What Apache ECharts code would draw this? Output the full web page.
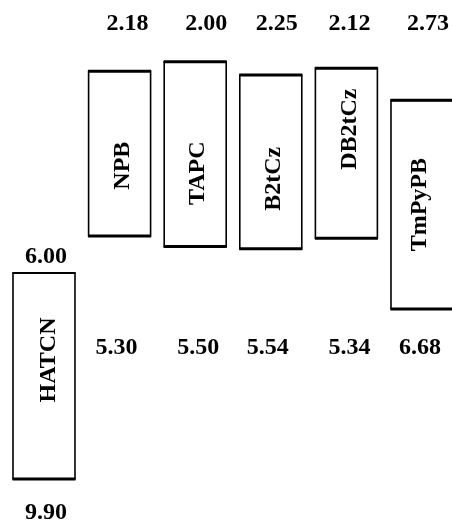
<!DOCTYPE html>
<html>
<head>
<meta charset="utf-8">
<script src="https://cdn.jsdelivr.net/npm/echarts@6/dist/echarts.min.js"></script>
<style>
html,body{margin:0;padding:0;background:#fff;}
#chart{width:452px;height:523px;}
</style>
</head>
<body>
<div id="chart"></div>
<script>
// Energy level data (eV, drawn downward)
const materials = ['HATCN', 'NPB', 'TAPC', 'B2tCz', 'DB2tCz', 'TmPyPB'];
const lumo = [6.00, 2.18, 2.00, 2.25, 2.12, 2.73];
const homo = [9.90, 5.30, 5.50, 5.54, 5.34, 6.68];
const lumoLabels = ['6.00', '2.18', '2.00', '2.25', '2.12', '2.73'];
const homoLabels = ['9.90', '5.30', '5.50', '5.54', '5.34', '6.68'];

// layout tweaks (pixels / energy rows for label placement)
const TOP_ROW = 1.275;   // energy level where the LUMO value row sits
const HOMO_ROW = 7.42;   // energy level where the HOMO value row sits
const lumoDx = [2, 8, 11, 6, 3, 6];
const homoDx = [2, -3, 3, -3, 3, -2];
const nameDy = [-16, 12, 19, 17, -24, 0];
const nameDx = [5, 3, 3, 3, 3, -2];

const FONT = 'bold 24px "Liberation Serif", "Times New Roman", serif';

const chart = echarts.init(document.getElementById('chart'), null, {renderer: 'canvas'});

function renderItem(params, api) {
  const i = api.value(0);
  const top = api.coord([i, api.value(1)]);
  const bot = api.coord([i, api.value(2)]);
  const w = api.size([1, 0])[0] * 0.82;
  const cx = top[0];
  const x0 = cx - w / 2;
  const x1 = cx + w / 2;
  let lumoY, homoY;
  if (i === 0) {
    lumoY = top[1] - 16.5;
    homoY = bot[1] + 33.5;
  } else {
    lumoY = api.coord([i, TOP_ROW])[1];
    homoY = api.coord([i, HOMO_ROW])[1];
  }
  const children = [
    {
      type: 'rect',
      shape: {x: x0, y: top[1], width: w, height: bot[1] - top[1]},
      style: {fill: '#fff', stroke: '#000', lineWidth: 1.6}
    },
    {
      type: 'line',
      shape: {x1: x0 - 0.5, y1: top[1], x2: x1 + 0.5, y2: top[1]},
      style: {stroke: '#000', lineWidth: i === 0 ? 2 : 3}
    },
    {
      type: 'line',
      shape: {x1: x0 - 0.5, y1: bot[1], x2: x1 + 0.5, y2: bot[1]},
      style: {stroke: '#000', lineWidth: 3}
    },
    {
      type: 'text',
      x: cx + nameDx[i],
      y: (top[1] + bot[1]) / 2 + nameDy[i],
      rotation: Math.PI / 2,
      style: {
        text: materials[i], font: FONT, fill: '#000',
        align: 'center', verticalAlign: 'middle'
      }
    },
    {
      type: 'text',
      x: cx + lumoDx[i], y: lumoY,
      style: {
        text: lumoLabels[i], font: FONT, fill: '#000',
        align: 'center', verticalAlign: 'middle'
      }
    },
    {
      type: 'text',
      x: cx + homoDx[i], y: homoY,
      style: {
        text: homoLabels[i], font: FONT, fill: '#000',
        align: 'center', verticalAlign: 'middle'
      }
    }
  ];
  return {type: 'group', children: children};
}

const option = {
  animation: false,
  backgroundColor: '#fff',
  grid: {left: 0, right: 0, top: 9, height: 475.2, containLabel: false},
  xAxis: {
    type: 'value',
    min: -0.582,
    max: 5.397,
    show: false
  },
  yAxis: {
    type: 'value',
    inverse: true,
    min: 1,
    max: 10,
    show: false
  },
  series: [{
    type: 'custom',
    clip: false,
    renderItem: renderItem,
    encode: {x: 0, y: [1, 2]},
    data: materials.map((m, i) => [i, lumo[i], homo[i]])
  }]
};
chart.setOption(option);
</script>
</body>
</html>
